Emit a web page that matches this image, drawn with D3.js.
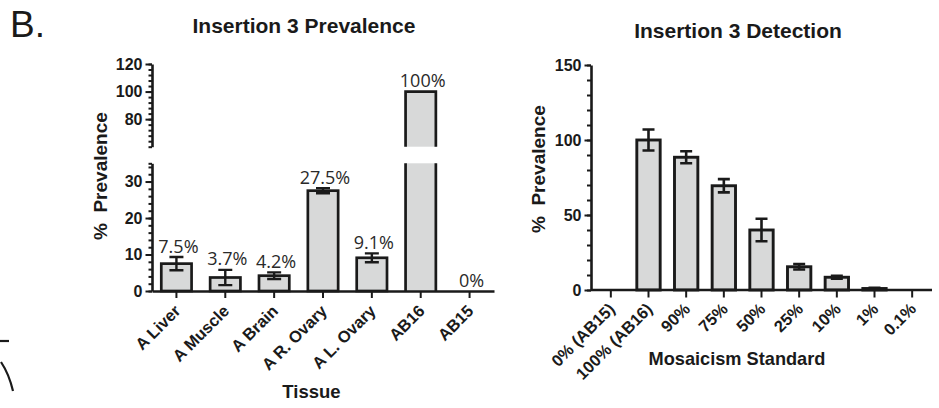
<!DOCTYPE html>
<html>
<head>
<meta charset="utf-8">
<script src="https://cdn.jsdelivr.net/npm/d3@7"></script>
<style>
  body { margin: 0; background: #fff; }
  svg { display: block; font-family: "Liberation Sans", Arial, sans-serif; }
</style>
</head>
<body>
<svg id="chart" width="939" height="408"></svg>
<script>
// ---- data: left panel (prevalence by tissue)
var tissues = ["A Liver", "A Muscle", "A Brain", "A R. Ovary", "A L. Ovary", "AB16", "AB15"];
var prevalence = [7.5, 3.7, 4.2, 27.5, 9.1, 100, 0];
var prevalenceErr = [1.8, 2.1, 0.9, 0.7, 1.2, 0, 0];
var prevalenceLabels = ["7.5%", "3.7%", "4.2%", "27.5%", "9.1%", "100%", "0%"];
var lowTicks = [0, 10, 20, 30];
var highTicks = [80, 100, 120];

// ---- data: right panel (detection of mosaicism standards)
var standards = ["0% (AB15)", "100% (AB16)", "90%", "75%", "50%", "25%", "10%", "1%", "0.1%"];
var detection = [0, 100, 88.5, 69.5, 40, 15.5, 8.5, 1, 0];
var detectionErr = [0, 7, 4, 4.4, 7.5, 1.8, 1, 0.4, 0];
var detectionTicks = [0, 50, 100, 150];

var ink = "#1a1a1a";
var barFill = "#d8d9d9";
var svg = d3.select("#chart");

// ---------- panel letter
svg.append("text")
  .attr("x", 10).attr("y", 36.5)
  .style("font-family", "'Liberation Sans', Arial, sans-serif")
  .style("font-size", "37px")
  .attr("fill", ink)
  .text("B.");

// ---------- left panel
var xL = d3.scaleBand().domain(tissues).range([152, 494])
  .paddingInner(0.38).paddingOuter(0.19);
var yLow = d3.scaleLinear().domain([0, 35]).range([291, 163.3]);
var yHigh = d3.scaleLinear().domain([60, 120]).range([146.7, 64]);

var left = svg.append("g");

left.append("text")
  .attr("x", 304).attr("y", 32.5)
  .attr("text-anchor", "middle")
  .style("font-weight", "bold").style("font-size", "21px")
  .attr("fill", ink)
  .text("Insertion 3 Prevalence");

function styleAxis(g, size) {
  g.selectAll("path, line").attr("stroke", ink);
  g.select(".domain").attr("stroke-width", 2.6);
  g.selectAll(".tick line").attr("stroke-width", 2);
  g.selectAll(".tick text")
    .attr("fill", ink)
    .style("font-family", "'Liberation Sans', Arial, sans-serif")
    .style("font-weight", "bold")
    .style("font-size", size + "px");
}

// minor ticks
[[yLow, d3.range(0, 35, 2).concat([35])], [yHigh, d3.range(60, 121, 4)]].forEach(function (p) {
  var g = left.append("g").attr("transform", "translate(152,0)")
    .call(d3.axisLeft(p[0]).tickValues(p[1]).tickSize(3.5).tickFormat(""));
  g.select(".domain").remove();
  styleAxis(g, 16);
});
// major ticks + segmented axis line
[[yLow, lowTicks], [yHigh, highTicks]].forEach(function (p) {
  var g = left.append("g").attr("transform", "translate(152,0)")
    .call(d3.axisLeft(p[0]).tickValues(p[1]).tickSize(6.5).tickSizeOuter(0).tickPadding(3));
  styleAxis(g, 16);
});

left.append("text")
  .attr("transform", "translate(106.5,240) rotate(-90)")
  .style("font-weight", "bold").style("font-size", "19px")
  .attr("fill", ink)
  .text("%\u00A0\u00A0Prevalence");

// bars
var bw = xL.bandwidth();
var leftBars = left.append("g");
tissues.forEach(function (t, i) {
  var v = prevalence[i];
  var x0 = xL(t);
  if (v <= 35) {
    leftBars.append("rect")
      .attr("x", x0).attr("y", yLow(v))
      .attr("width", bw).attr("height", yLow(0) - yLow(v))
      .attr("fill", barFill).attr("stroke", ink).attr("stroke-width", 2.7);
  } else {
    // broken bar across the axis gap
    leftBars.append("rect")
      .attr("x", x0).attr("y", yLow(35))
      .attr("width", bw).attr("height", yLow(0) - yLow(35))
      .attr("fill", barFill);
    leftBars.append("rect")
      .attr("x", x0).attr("y", yHigh(v))
      .attr("width", bw).attr("height", yHigh(60) - yHigh(v))
      .attr("fill", barFill);
    leftBars.append("path")
      .attr("d", "M" + x0 + "," + yLow(0) + "V" + yLow(35) +
                 "M" + (x0 + bw) + "," + yLow(0) + "V" + yLow(35) +
                 "M" + x0 + "," + yHigh(60) + "V" + yHigh(v) + "H" + (x0 + bw) + "V" + yHigh(60))
      .attr("fill", "none").attr("stroke", ink).attr("stroke-width", 2.7);
  }
  var cx = x0 + bw / 2;
  var e = prevalenceErr[i];
  if (e > 0) {
    leftBars.append("path")
      .attr("d", "M" + cx + "," + yLow(v - e) + "V" + yLow(v + e) +
                 "M" + (cx - 7) + "," + yLow(v + e) + "H" + (cx + 7) +
                 "M" + (cx - 7) + "," + yLow(v - e) + "H" + (cx + 7))
      .attr("fill", "none").attr("stroke", ink).attr("stroke-width", 2.4);
  }
  var topY = v <= 35 ? yLow(v + e) : yHigh(v);
  leftBars.append("text")
    .attr("x", cx + 2).attr("y", topY - 4.5)
    .attr("text-anchor", "middle")
    .style("font-family", "'Open Sans', sans-serif")
    .style("font-size", "18px")
    .attr("fill", "#2a2a2a")
    .text(prevalenceLabels[i]);
});

// x axis
var gxL = left.append("g").attr("transform", "translate(0,291)")
  .call(d3.axisBottom(xL).tickSize(7).tickSizeOuter(0).tickFormat(""));
styleAxis(gxL, 16);
left.append("g").selectAll("text").data(tissues).enter().append("text")
  .attr("transform", function (d) {
    return "translate(" + (xL(d) + bw / 2 + 5) + ",312) rotate(-45)";
  })
  .attr("text-anchor", "end")
  .style("font-weight", "bold").style("font-size", "16.5px")
  .attr("fill", ink)
  .text(function (d) { return d; });

left.append("text")
  .attr("x", 311.5).attr("y", 397.5)
  .attr("text-anchor", "middle")
  .style("font-weight", "bold").style("font-size", "18.5px")
  .attr("fill", ink)
  .text("Tissue");

// ---------- right panel
var xR = d3.scaleBand().domain(standards).range([592, 931])
  .paddingInner(0.38).paddingOuter(0.19);
var yR = d3.scaleLinear().domain([0, 150]).range([290, 65]);
var right = svg.append("g");

right.append("text")
  .attr("x", 738).attr("y", 37.5)
  .attr("text-anchor", "middle")
  .style("font-weight", "bold").style("font-size", "21px")
  .attr("fill", ink)
  .text("Insertion 3 Detection");

var gmR = right.append("g").attr("transform", "translate(591,0)")
  .call(d3.axisLeft(yR).tickValues(d3.range(0, 151, 10)).tickSize(4).tickFormat(""));
gmR.select(".domain").remove();
styleAxis(gmR, 16);
var gyR = right.append("g").attr("transform", "translate(591,0)")
  .call(d3.axisLeft(yR).tickValues(detectionTicks).tickSize(6.5).tickSizeOuter(0).tickPadding(3));
styleAxis(gyR, 16);

right.append("text")
  .attr("transform", "translate(545,233) rotate(-90)")
  .style("font-weight", "bold").style("font-size", "19px")
  .attr("fill", ink)
  .text("%\u00A0\u00A0Prevalence");

var bwR = xR.bandwidth();
var rightBars = right.append("g");
standards.forEach(function (s, i) {
  var v = detection[i];
  if (v <= 0) return;
  var x0 = xR(s), cx = x0 + bwR / 2, e = detectionErr[i];
  rightBars.append("rect")
    .attr("x", x0).attr("y", yR(v))
    .attr("width", bwR).attr("height", yR(0) - yR(v))
    .attr("fill", barFill).attr("stroke", ink).attr("stroke-width", 2.9);
  if (e > 0) {
    rightBars.append("path")
      .attr("d", "M" + cx + "," + yR(v - e) + "V" + yR(v + e) +
                 "M" + (cx - 6) + "," + yR(v + e) + "H" + (cx + 6) +
                 "M" + (cx - 6) + "," + yR(v - e) + "H" + (cx + 6))
      .attr("fill", "none").attr("stroke", ink).attr("stroke-width", 2.6);
  }
});

var gxR = right.append("g").attr("transform", "translate(0,290)")
  .call(d3.axisBottom(xR).tickSize(7.5).tickSizeOuter(0).tickFormat(""));
gxR.select(".domain").attr("d", "M591,0H932");
styleAxis(gxR, 16);
right.append("g").selectAll("text").data(standards).enter().append("text")
  .attr("transform", function (d) {
    return "translate(" + (xR(d) + bwR / 2 + 5) + ",310) rotate(-45)";
  })
  .attr("text-anchor", "end")
  .style("font-weight", "bold").style("font-size", "16.5px")
  .attr("fill", ink)
  .text(function (d) { return d; });

right.append("text")
  .attr("x", 737).attr("y", 365)
  .attr("text-anchor", "middle")
  .style("font-weight", "bold").style("font-size", "18.2px")
  .attr("fill", ink)
  .text("Mosaicism Standard");

// ---------- clipped fragments of the neighbouring panel (bottom-left edge)
var frag = svg.append("g").attr("stroke", ink).attr("fill", "none").attr("stroke-width", 2.2);
frag.append("line").attr("x1", 0).attr("x2", 9).attr("y1", 341).attr("y2", 341);
frag.append("path").attr("d", "M1,362 Q9,374 13,391");
</script>
</body>
</html>
